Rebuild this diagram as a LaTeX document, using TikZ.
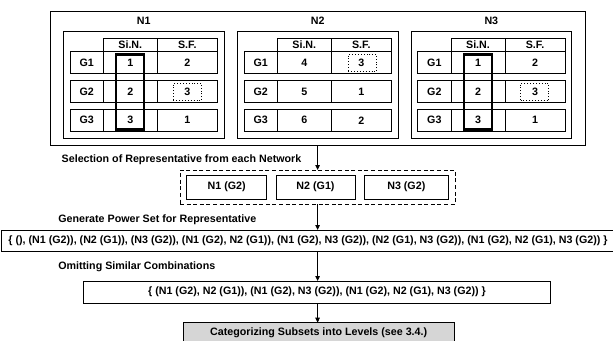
\documentclass[tikz,border=0pt]{standalone}
\usepackage{fontspec}
\setmainfont{Liberation Sans}
\usetikzlibrary{arrows.meta}
\tikzset{
  every node/.style={font=\bfseries\fontsize{10.7}{12}\selectfont, inner sep=0pt, outer sep=0pt},
  box/.style={draw, line width=0.8pt, anchor=north west},
  cell/.style={draw, line width=0.8pt, anchor=north west, minimum height=22pt},
  hcell/.style={draw, line width=0.8pt, anchor=north west, minimum height=13.4pt},
  selbox/.style={draw, line width=2.6pt, anchor=north west, minimum width=28pt, minimum height=75pt},
  dotbox/.style={draw, dotted, line width=0.9pt, anchor=north west, minimum width=28.4pt, minimum height=17.4pt},
  lbl/.style={anchor=west},
  arr/.style={line width=0.9pt, -{Triangle[length=5pt,width=4.5pt]}},
}
\newcommand{\nettab}[9]{%
  \begin{scope}[xshift=#2pt, name prefix=#1-]
    \node[box, minimum width=160.7pt, minimum height=106.6pt] (frame) at (0,31.7) {};
    \node (title) at (80.35,21) {#3};
    \node[hcell, minimum width=54pt] (hs) at (40,38.3) {Si.N.};
    \node[hcell, minimum width=60pt] (hf) at (94,38.3) {S.F.};
    \node[cell, minimum width=33.3pt] (g1) at (6.7,51.7) {G1};
    \node[cell, minimum width=54pt] (s1) at (40,51.7) {#4};
    \node[cell, minimum width=60pt] (f1) at (94,51.7) {#5};
    \node[cell, minimum width=33.3pt] (g2) at (6.7,80.7) {G2};
    \node[cell, minimum width=54pt] (s2) at (40,80.7) {#6};
    \node[cell, minimum width=60pt] (f2) at (94,80.7) {#7};
    \node[cell, minimum width=33.3pt] (g3) at (6.7,109.3) {G3};
    \node[cell, minimum width=54pt] (s3) at (40,109.3) {#8};
    \node[cell, minimum width=60pt] (f3) at (94,109.3) {#9};
  \end{scope}}
\begin{document}
\begin{tikzpicture}[x=1pt, y=-1pt]
  \useasboundingbox (0,0) rectangle (613,340);
  \node[box, minimum width=535.7pt, minimum height=134pt] (outer) at (50,11.7) {};
  \nettab{n1}{63.3}{N1}{1}{2}{2}{3}{3}{1}
  \nettab{n2}{237.3}{N2}{4}{3}{5}{1}{6}{2}
  \nettab{n3}{411}{N3}{1}{2}{2}{3}{3}{1}
  % selections
  \node[selbox] (n1-sel) at (116,54.3) {};
  \node[selbox] (n3-sel) at (464,54.3) {};
  \node[dotbox] (n1-dot) at (173.3,83.3) {};
  \node[dotbox] (n2-dot) at (348.3,54.3) {};
  \node[dotbox] (n3-dot) at (520.5,83.3) {};
  % representatives
  \node[box, dashed, dash pattern=on 4pt off 2.6pt, line width=1pt, minimum width=275pt, minimum height=34.3pt] (rep) at (180,170) {};
  \node[box, minimum width=80pt, minimum height=24.3pt] (r1) at (186.7,175) {N1 (G2)};
  \node[box, minimum width=79pt, minimum height=24.3pt] (r2) at (276,175) {N2 (G1)};
  \node[box, minimum width=84pt, minimum height=24.3pt] (r3) at (364.3,175) {N3 (G2)};
  \node[lbl] (t1) at (61.7,159.3) {Selection of Representative from each Network};
  % power set
  \node[lbl] (t2) at (58.3,219.5) {Generate Power Set for Representative};
  \node[box, minimum width=614pt, minimum height=21.7pt] (ps) at (1,230) {\{ (), (N1 (G2)), (N2 (G1)), (N3 (G2)), (N1 (G2), N2 (G1)), (N1 (G2), N3 (G2)), (N2 (G1), N3 (G2)), (N1 (G2), N2 (G1), N3 (G2)) \}};
  % omitting
  \node[lbl] (t3) at (58.3,266.7) {Omitting Similar Combinations};
  \node[box, minimum width=467.4pt, minimum height=22.3pt] (om) at (83.3,281) {\{ (N1 (G2), N2 (G1)), (N1 (G2), N3 (G2)), (N1 (G2), N2 (G1), N3 (G2)) \}};
  % categorizing
  \node[box, fill=black!16, minimum width=270.7pt, minimum height=19.5pt] (cat) at (183.3,322.7) {Categorizing Subsets into Levels (see 3.4.)};
  % arrows
  \coordinate (ax) at (317.6,0);
  \draw[arr] (outer.south -| ax) -- (rep.north -| ax);
  \draw[arr] (rep.south -| ax) -- (ps.north -| ax);
  \draw[arr] (ps.south -| ax) -- (om.north -| ax);
  \draw[arr] (om.south -| ax) -- (cat.north -| ax);
\end{tikzpicture}
\end{document}
